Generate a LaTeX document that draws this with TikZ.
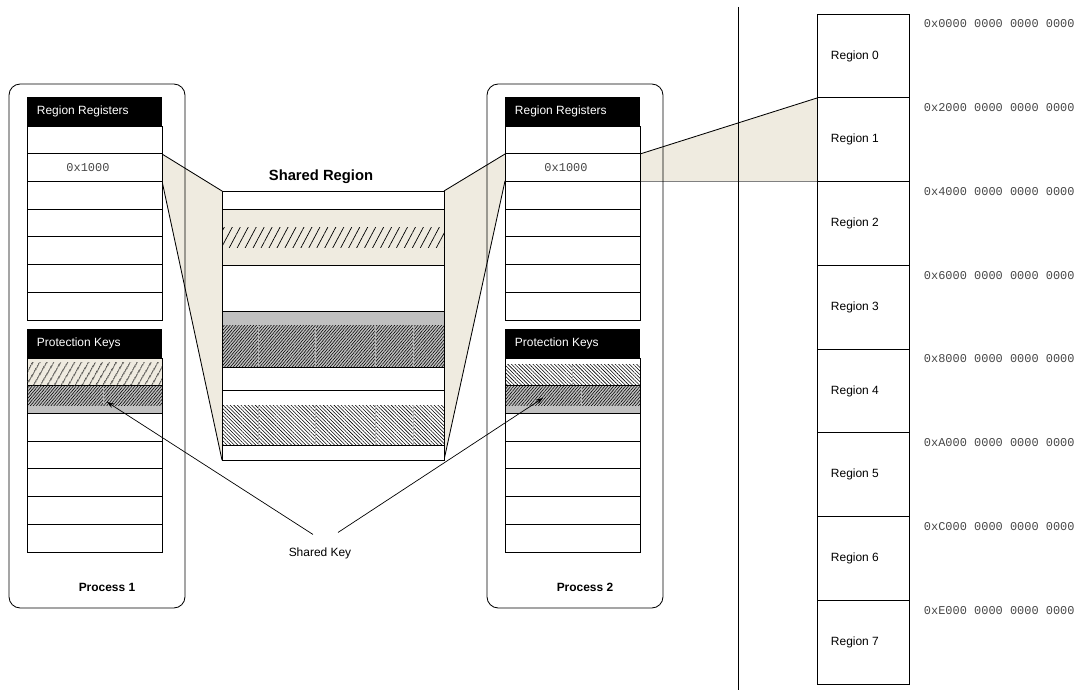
\documentclass[tikz,border=0pt]{standalone}
\usepackage{fontspec}
\setmainfont{Liberation Sans}
\setmonofont{Liberation Mono}
\usetikzlibrary{arrows.meta,calc,patterns.meta}
\usepackage{tkz-euclide}
\definecolor{LinkClr}{RGB}{239,235,224}
\definecolor{KeyClr}{RGB}{192,192,192}
\definecolor{AddrClr}{RGB}{70,70,70}

\begin{document}
\begin{tikzpicture}[x=0.025cm,y=-0.025cm,font=\fontsize{8.5}{10}\selectfont,
  cell/.style={draw=black,line width=0.6pt,fill=white},
  hex/.style={font=\fontsize{8.5}{10}\selectfont\ttfamily,text=AddrClr},
  sparse/.style={pattern={Lines[angle=60,distance=4pt,line width=0.55pt]}},
  denseNE/.style={pattern={Lines[angle=50,distance=1.6pt,line width=0.4pt]}},
  denseNW/.style={pattern={Lines[angle=-45,distance=1.8pt,line width=0.4pt]}}]
\useasboundingbox (0,0) rectangle (1084,694);
\tkzSetUpLine[line width=0.6pt,color=black]

\tkzDefPoints{162/154/A,162/181/B,222/191/C,222/460/D}
\tkzDefPoints{505/154/E,505/181/F,444/191/G,444/460/H}
\tkzDefPoints{640/154/I,640/181/J,817/98/K,817/181/L}

% the links to the shared region and to region 1
\tkzFillPolygon[fill=LinkClr](A,C,D,B)
\tkzFillPolygon[fill=LinkClr](E,G,H,F)
\tkzFillPolygon[fill=LinkClr](I,K,L,J)
\tkzDrawSegments(A,C B,D E,G F,H I,K)
\tkzDrawSegment[color=gray,line width=0.4pt](J,L)

% the two processes
\foreach \px/\name in {27/1,505/2}{
  \draw[line width=0.6pt,rounded corners=8pt] (\px-18,84) rectangle ++(176,524);
  \node[font=\fontsize{8.5}{10}\selectfont\bfseries] (proc\name) at (\px+80,587) {Process \name};
  % region registers
  \fill[black] (\px,97) rectangle ++(135,29);
  \node[anchor=west,text=white] (rr\name) at (\px+5,111.5) {Region Registers};
  \foreach \i in {0,...,6}
    \draw[cell] (\px,126+\i*27.71) rectangle ++(135,27.71);
  \node[hex] (ptr\name) at (\px+61,167.5) {0x1000};
  % protection keys
  \fill[black] (\px,329) rectangle ++(135,29);
  \node[anchor=west,text=white] (pk\name) at (\px+5,343.5) {Protection Keys};
  \foreach \i in {0,...,6}
    \draw[cell] (\px,358+\i*27.71) rectangle ++(135,27.71);
  \draw[cell,fill=KeyClr] (\px,385.71) rectangle ++(135,27.71);
  \fill[denseNE] (\px,386) rectangle ++(135,19);
  \draw[gray!60,line width=0.3pt] (\px+76,386) -- ++(0,19);
}
% the two keys that differ
\draw[cell,fill=LinkClr] (27,358) rectangle ++(135,27.71);
\fill[sparse] (27,363) rectangle (162,385.5);
\fill[denseNW] (505,365) rectangle (640,385.5);
\draw[gray!60,line width=0.3pt] (572,365) -- (572,385.5);

% shared region
\node[font=\fontsize{10.5}{12}\selectfont\bfseries] (shreg) at (321,177) {Shared Region};
\draw[cell] (222,191) rectangle (444,460);
\draw[line width=0.6pt,fill=LinkClr] (222,209) rectangle (444,265);
\fill[pattern={Lines[angle=62,distance=5pt,line width=0.5pt]}] (222,228) rectangle (444,248);
\draw[line width=0.6pt,fill=KeyClr] (222,311) rectangle (444,367);
\fill[denseNE] (222,326) rectangle (444,367);
\draw[line width=0.6pt] (222,390) -- (444,390);
\fill[denseNW] (222,405) rectangle (444,445);
\draw[line width=0.6pt] (222,445) -- (444,445);
\foreach \sx in {258,315,375,413}
  \draw[gray!60,line width=0.3pt] (\sx,326) -- (\sx,367) (\sx,405) -- (\sx,445);
\draw[line width=0.6pt] (222,191) rectangle (444,460);

% address space
\draw[line width=0.6pt] (738,7) -- (738,690);
\foreach \i/\h in {0/0,1/2,2/4,3/6,4/8,5/A,6/C,7/E}{
  \draw[cell] (817,14+\i*83.75) rectangle ++(92,83.75);
  \node[anchor=west] (reg\i) at (826,56+\i*83.75) {Region \i};
  \node[hex,anchor=west] (adr\i) at (919,24+\i*83.75) {0x\h000 0000 0000 0000};
}

% shared key
\node (skey) at (320,553) {Shared Key};
\coordinate (key1) at (107,402);
\coordinate (key2) at (543,398);
\draw[line width=0.5pt,-{Stealth[length=5pt,width=3.5pt]}] ($(skey.north)+(-7,-8)$) -- (key1);
\draw[line width=0.5pt,-{Stealth[length=5pt,width=3.5pt]}] ($(skey.north)+(18,-10)$) -- (key2);

\end{tikzpicture}
\end{document}
